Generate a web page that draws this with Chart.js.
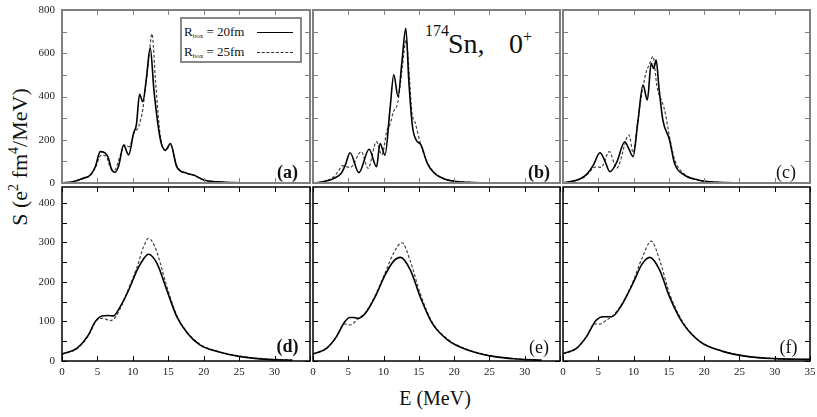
<!DOCTYPE html>
<html>
<head>
<meta charset="utf-8">
<script src="https://cdn.jsdelivr.net/npm/chart.js@4.4.0/dist/chart.umd.min.js"></script>
<style>
body{margin:0;background:#fff;width:817px;height:417px;overflow:hidden;position:relative;font-family:"Liberation Serif","Times New Roman",serif;color:#111}
canvas{position:absolute}
.t{position:absolute;line-height:1;white-space:nowrap}
.plab{position:absolute;line-height:1;font-size:18px;transform:translate(-50%,-50%)}
#legend{position:absolute;left:180px;top:17px;width:118px;height:42px;border:2px solid #888;background:#fff}
#legend .row{position:absolute;left:2px;font-size:13px;line-height:1}
#legend sub{font-size:7px;vertical-align:-2px}
#legend .ln{position:absolute;left:75px;width:36px;height:0}
</style>
</head>
<body>
<div id="legend">
  <div class="row" style="top:6px">R<sub>box</sub> = 20fm</div>
  <div class="ln" style="top:13px;border-top:1.5px solid #000"></div>
  <div class="row" style="top:26px">R<sub>box</sub> = 25fm</div>
  <div class="ln" style="top:33px;border-top:1px dashed #333"></div>
</div>
<div class="t" style="left:425px;top:22.6px;font-size:16px">174</div>
<div class="t" style="left:448px;top:29.5px;font-size:28px">Sn,</div>
<div class="t" style="left:509px;top:29.5px;font-size:28px">0</div>
<div class="t" style="left:523px;top:28.6px;font-size:16px">+</div>
<div class="t" style="left:19px;top:157px;font-size:22px;transform:translate(-50%,-50%) rotate(-90deg)">S (e<sup style="font-size:14px">2</sup> fm<sup style="font-size:14px">4</sup>/MeV)</div>
<div class="t" style="left:435px;top:398px;font-size:20px;transform:translate(-50%,-50%)">E (MeV)</div>

<script>
// panel (a)
const aSolidE = [0, 1.5, 3, 4, 4.7, 5.4, 6.0, 6.5, 7.0, 7.5, 8.0, 8.7, 9.4, 10.1, 10.5, 10.95, 11.4, 11.9, 12.45, 13.0, 13.9, 14.6, 15.3, 16.2, 17.6, 18.6, 20, 22, 24, 26];
const aSolid  = [0, 6, 22, 37, 75, 145, 140, 120, 62, 50, 80, 175, 130, 230, 270, 410, 376, 480, 625, 420, 199, 152, 183, 75, 45, 37, 14, 5, 2, 0];
const aDashedE = [0, 1.5, 3, 4, 4.7, 5.5, 6.2, 6.8, 7.4, 8.2, 8.8, 9.5, 10.2, 10.8, 11.4, 11.8, 12.2, 12.7, 13.2, 13.9, 14.6, 15.3, 16.2, 17.6, 18.6, 20, 22, 24, 26];
const aDashed  = [0, 5, 20, 35, 70, 128, 125, 75, 60, 125, 175, 168, 235, 260, 340, 450, 560, 690, 470, 210, 150, 175, 80, 45, 35, 14, 5, 2, 0];
// panel (b)
const bSolidE = [0, 1, 2, 3, 4, 4.6, 5.25, 6.5, 7.95, 9.0, 9.5, 10.2, 10.9, 11.45, 12.05, 12.6, 13.15, 13.6, 14.1, 14.6, 15.3, 16.2, 17.2, 18.5, 20, 22, 24, 26];
const bSolid  = [0, 3, 10, 22, 45, 85, 140, 48, 156, 75, 183, 129, 337, 500, 400, 560, 715, 460, 260, 200, 176, 91, 45, 20, 8, 3, 1, 0];
const bDashedE = [0, 1, 2, 3, 3.6, 4.2, 5.3, 6.85, 7.8, 9.0, 9.75, 10.5, 10.9, 11.4, 12.0, 12.6, 13.2, 13.6, 14.0, 14.5, 15.2, 16.2, 17.2, 18.5, 20, 22, 24, 26];
const bDashed  = [0, 3, 12, 30, 55, 80, 72, 145, 68, 191, 130, 245, 270, 330, 370, 520, 660, 520, 330, 277, 185, 95, 48, 22, 9, 3, 1, 0];
// panel (c)
const cSolidE = [0, 2, 3, 3.6, 4.3, 5.24, 5.9, 6.65, 7.6, 8.76, 9.3, 9.93, 10.6, 11.34, 11.95, 12.5, 12.85, 13.2, 13.6, 14.15, 15.1, 15.8, 17.2, 19.1, 21, 23, 27];
const cSolid  = [0, 14, 30, 50, 83, 140, 105, 52, 95, 191, 160, 122, 280, 453, 384, 553, 530, 568, 440, 291, 199, 91, 37, 14, 5, 2, 0];
const cDashedE = [0, 2, 3, 3.6, 4.3, 4.8, 5.4, 6.56, 7.6, 9.35, 9.95, 10.5, 11.0, 11.8, 12.2, 12.75, 13.3, 14.4, 15.2, 15.8, 17.2, 19.1, 21, 23, 27];
const cDashed  = [0, 12, 28, 45, 70, 75, 72, 145, 68, 222, 140, 260, 380, 515, 545, 585, 450, 337, 195, 110, 40, 15, 5, 2, 0];
// panel (d)
const dSolidE = [0, 2.08, 3.73, 4.67, 5.62, 6.5, 7.27, 8.2, 9.4, 10.6, 11.5, 12.2, 13.4, 14.8, 16.2, 17.7, 19.5, 21.9, 25.2, 29, 32.5];
const dSolid  = [18, 32, 66, 99, 114, 115, 114, 137, 179, 230, 258, 270, 247, 179, 112, 70, 40, 24, 11, 4, 2];
const dDashedE = [0, 2.08, 3.73, 4.67, 5.3, 6.0, 6.8, 7.5, 8.2, 9.4, 10.6, 11.5, 12.2, 12.8, 13.4, 14.8, 16.2, 17.7, 19.5, 21.9, 25.2, 29, 32.5];
const dDashed  = [17, 31, 64, 97, 108, 107, 102, 110, 132, 183, 238, 288, 310, 300, 275, 188, 115, 72, 42, 25, 12, 5, 3];
// panel (e)
const eSolidE = [0, 1.9, 3.3, 4.5, 5.2, 5.8, 6.4, 7.4, 8.8, 10.2, 11.4, 12.4, 13.8, 15.2, 16.9, 19.1, 21.9, 25.7, 29, 32.4];
const eSolid  = [18, 32, 61, 99, 110, 110, 108, 120, 162, 217, 252, 262, 230, 162, 95, 53, 28, 11, 5, 2];
const eDashedE = [0, 1.9, 3.3, 4.5, 5.2, 6.4, 7.4, 8.8, 10.2, 11.4, 12.6, 13.8, 15.2, 16.9, 19.1, 21.9, 25.7, 29, 32.4];
const eDashed  = [17, 31, 60, 94, 91, 107, 122, 165, 222, 272, 299, 252, 170, 98, 55, 29, 12, 5, 2];
// panel (f)
const fSolidE = [0, 1.9, 3.3, 4.7, 5.7, 6.9, 8.3, 9.9, 11.2, 12.3, 13.7, 15.1, 17, 19.4, 22.5, 26.3, 30, 35];
const fSolid  = [19, 32, 61, 103, 112, 112, 141, 196, 245, 262, 230, 162, 95, 49, 25, 11, 6, 4];
const fDashedE = [0, 1.9, 3.3, 4.5, 5.2, 6.2, 6.9, 8.3, 9.9, 11.2, 12.5, 13.7, 15.1, 17, 19.4, 22.5, 26.3, 30, 35];
const fDashed  = [18, 31, 60, 94, 93, 104, 112, 143, 200, 260, 303, 255, 170, 98, 50, 26, 11, 6, 4];

const xLabelsLeft = [0, 5, 10, 15, 20, 25, 30];
const xLabelsRight = [0, 5, 10, 15, 20, 25, 30, 35];
const yLabelsTop = [0, 200, 400, 600, 800];
const yLabelsBottom = [0, 100, 200, 300, 400];

const panels = [
  {name:'(a)', bold:true,  solid:[aSolidE, aSolid], dashed:[aDashedE, aDashed], row:0, col:0},
  {name:'(b)', bold:true,  solid:[bSolidE, bSolid], dashed:[bDashedE, bDashed], row:0, col:1},
  {name:'(c)', bold:false, solid:[cSolidE, cSolid], dashed:[cDashedE, cDashed], row:0, col:2},
  {name:'(d)', bold:true,  solid:[dSolidE, dSolid], dashed:[dDashedE, dDashed], row:1, col:0},
  {name:'(e)', bold:false, solid:[eSolidE, eSolid], dashed:[eDashedE, eDashed], row:1, col:1},
  {name:'(f)', bold:false, solid:[fSolidE, fSolid], dashed:[fDashedE, fDashed], row:1, col:2}
];
const colsX = [[62, 310], [313, 560], [563, 810]];
const rowsY = [[10, 183], [187, 361]];
const labelPos = [[[287.5, 171.5], [539, 172], [786, 172]], [[287.5, 345.5], [539, 347], [788.5, 347]]];

function pts(E, S){
  return E.map((e, i) => ({x: e, y: S[i]}));
}

// frame + inward tick marks on all four sides
const framePlugin = {
  id: 'frame',
  afterDatasetsDraw(chart, args, opts){
    const {ctx, chartArea: a, scales: {x, y}} = chart;
    ctx.save();
    ctx.strokeStyle = opts.color;
    ctx.lineWidth = 1;
    ctx.beginPath();
    x.ticks.forEach(t => {
      const px = Math.round(x.getPixelForValue(t.value)) + 0.5;
      ctx.moveTo(px, a.bottom); ctx.lineTo(px, a.bottom - 5);
      ctx.moveTo(px, a.top); ctx.lineTo(px, a.top + 5);
    });
    y.ticks.forEach(t => {
      const py = Math.round(y.getPixelForValue(t.value)) + 0.5;
      ctx.moveTo(a.left, py); ctx.lineTo(a.left + 5, py);
      ctx.moveTo(a.right, py); ctx.lineTo(a.right - 5, py);
    });
    ctx.stroke();
    ctx.lineWidth = opts.width;
    ctx.strokeRect(a.left, a.top, a.right - a.left, a.bottom - a.top);
    ctx.restore();
  }
};

const tickFont = {family: '"Liberation Serif", serif', size: 11};

function fixScale(size, horizontal){
  return s => {
    if (horizontal) s.height = size; else s.width = size;
    s.paddingTop = s.paddingBottom = s.paddingLeft = s.paddingRight = 0;
  };
}

panels.forEach(p => {
  const [l, r] = colsX[p.col], [t, b] = rowsY[p.row];
  const top = p.row === 0;
  const padL = p.col === 0 ? 62 : 4, padB = p.row === 1 ? 30 : 4, padT = 4, padR = p.col === 2 ? 10 : 4;
  const cv = document.createElement('canvas');
  cv.width = r - l + padL + padR;
  cv.height = b - t + padT + padB;
  cv.style.left = (l - padL) + 'px';
  cv.style.top = (t - padT) + 'px';
  cv.style.width = cv.width + 'px';
  cv.style.height = cv.height + 'px';
  document.body.appendChild(cv);

  const xLabels = p.col === 2 ? xLabelsRight : xLabelsLeft;
  const yLabels = top ? yLabelsTop : yLabelsBottom;

  new Chart(cv, {
    type: 'line',
    data: {
      datasets: [
        {data: pts(...p.solid), borderColor: '#000', borderWidth: 1.6, pointRadius: 0, cubicInterpolationMode: 'monotone', fill: false},
        {data: pts(...p.dashed), borderColor: '#444', borderWidth: 1.2, borderDash: [3, 2], pointRadius: 0, cubicInterpolationMode: 'monotone', fill: false}
      ]
    },
    options: {
      responsive: false,
      animation: false,
      events: [],
      layout: {padding: {top: padT, right: padR, left: 0, bottom: 0}},
      plugins: {
        legend: {display: false},
        tooltip: {enabled: false},
        frame: top ? {color: '#7f7f7f', width: 2} : {color: '#000', width: 1.5}
      },
      scales: {
        x: {
          type: 'linear', min: 0, max: 35,
          grid: {display: false, drawTicks: false},
          border: {display: false},
          ticks: {display: p.row === 1, stepSize: 5, autoSkip: false, maxRotation: 0, padding: 5,
                  color: '#222', font: tickFont,
                  callback: v => xLabels.includes(v) ? v : ''},
          afterFit: fixScale(padB, true)
        },
        y: {
          type: 'linear', min: 0, max: top ? 800 : 440,
          grid: {display: false, drawTicks: false},
          border: {display: false},
          ticks: {display: p.col === 0, stepSize: top ? 100 : 50, includeBounds: false, autoSkip: false, padding: 7,
                  color: '#222', font: tickFont,
                  callback: v => yLabels.includes(v) ? v : ''},
          afterFit: fixScale(padL, false)
        }
      }
    },
    plugins: [framePlugin]
  });

  const lab = document.createElement('div');
  lab.className = 'plab';
  lab.textContent = p.name;
  lab.style.fontWeight = p.bold ? 'bold' : 'normal';
  const [lx, ly] = labelPos[p.row][p.col];
  lab.style.left = lx + 'px';
  lab.style.top = ly + 'px';
  document.body.appendChild(lab);
});
</script>
</body>
</html>
